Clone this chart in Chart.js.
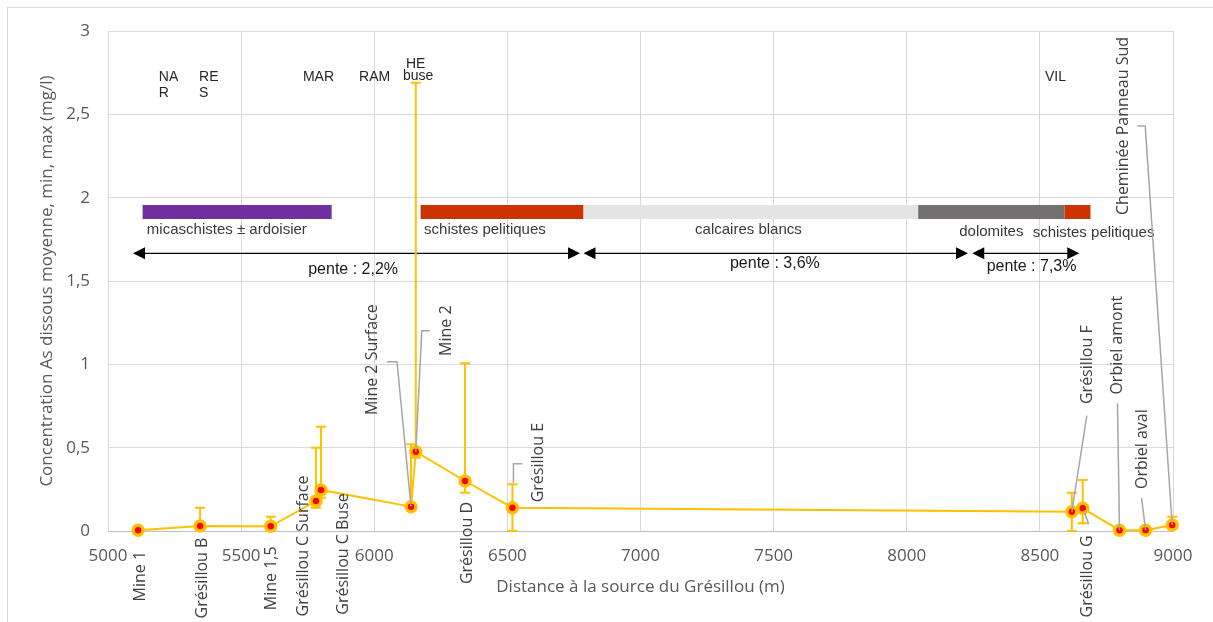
<!DOCTYPE html>
<html>
<head>
<meta charset="utf-8">
<script src="https://cdn.jsdelivr.net/npm/chart.js@4.4.1/dist/chart.umd.min.js"></script>
<style>
  body { margin: 0; background: #fff; }
</style>
</head>
<body>
<canvas id="asChart" width="1213" height="622"></canvas>
<script>
// stations le long du Grésillou
const stations = ["Mine 1", "Grésillou B", "Mine 1,5", "Grésillou C Surface", "Grésillou C Buse",
  "Mine 2 Surface", "Mine 2", "Grésillou D", "Grésillou E", "Grésillou F", "Grésillou G",
  "Orbiel amont", "Orbiel aval", "Cheminée Panneau Sud"];
const distances = [5113, 5346, 5611, 5781, 5800, 6138, 6156, 6341, 6519, 8620, 8661, 8799, 8897, 8997];
const asMean = [0.005, 0.03, 0.028, 0.18, 0.246, 0.146, 0.476, 0.30, 0.14, 0.116, 0.136, 0.005, 0.005, 0.036];
const asMin = [0.005, 0.01, 0.01, 0.14, 0.20, 0.14, 0.44, 0.23, 0, 0, 0.047, 0.005, 0.005, 0.03];
const asMax = [0.005, 0.14, 0.086, 0.50, 0.626, 0.52, 2.69, 1.006, 0.28, 0.23, 0.306, 0.005, 0.005, 0.086];

// géologie (distance début / fin)
const geoNames = ["micaschistes ± ardoisier", "schistes pelitiques", "calcaires blancs", "dolomites", "schistes pelitiques"];
const geoStart = [5130, 6174, 6786, 8043, 8593];
const geoEnd = [5840, 6786, 8043, 8593, 8690];

// pentes
const slopeLabels = ["pente : 2,2%", "pente : 3,6%", "pente : 7,3%"];
const slopeStart = [5094, 6786, 8246];
const slopeEnd = [6773, 8230, 8648];

// codes en haut du graphique
const topCodes = ["NA", "R", "RE", "S", "MAR", "RAM", "HE", "buse", "VIL"];

// ---- mise en page (pas des données) ----
const geoColors = ["#7030A0", "#CC3300", "#E4E4E4", "#767171", "#CC3300"];
const geoBand = [1.872, 1.956];
const geoLabelPos = [[5146, 1.806], [6187, 1.806], [7205, 1.806], [8197, 1.796], [8473, 1.788]];
const slopeY = 1.666;
const slopeLabelPos = [[5752, 1.566], [7336, 1.602], [8300, 1.584]];
const topCodePos = [[5191, 2.724], [5191, 2.628], [5342, 2.724], [5342, 2.628], [5732, 2.724],
  [5943, 2.724], [6119, 2.802], [6108, 2.73], [8519, 2.724]];
const labelLayout = [
  { dx: 2, dy: 46 },
  { dx: 2, dy: 52 },
  { dx: 1, dy: 52 },
  { dx: -13, dy: 45 },
  { dx: 22, dy: 64 },
  { dx: -39, dy: -147, leader: [[-24, -145], [-14, -145], [0, 0]] },
  { dx: 31, dy: -121, leader: [[14, -121], [6, -121], [0, 0]] },
  { dx: 2, dy: 62 },
  { dx: 26, dy: -45, leader: [[10, -44], [1, -44], [1, -25]] },
  { dx: 16, dy: -147, leader: [[15, -96], [0, 0]] },
  { dx: 5, dy: 68, leader: [[1, 2], [6, 16]] },
  { dx: -2, dy: -185, leader: [[-2, -127], [0, 0]] },
  { dx: -3, dy: -81, leader: [[-4, -32], [0, 0]] },
  { dx: -49, dy: -399, leader: [[-35, -399], [-27, -399], [0, 0]] }
];

const points = distances.map(function (d, i) {
  return { x: d, y: asMean[i] };
});

function arrowHead(ctx, x, y, dir) {
  ctx.beginPath();
  ctx.moveTo(x, y);
  ctx.lineTo(x - dir * 12, y - 6);
  ctx.lineTo(x - dir * 12, y + 6);
  ctx.closePath();
  ctx.fill();
}

const decorPlugin = {
  id: "decor",
  beforeDraw(chart) {
    const ctx = chart.ctx;
    ctx.save();
    ctx.strokeStyle = "#d9d9d9";
    ctx.lineWidth = 1;
    ctx.strokeRect(7.5, 7.5, 1230, 640);
    ctx.restore();
  },
  beforeDatasetsDraw(chart) {
    const ctx = chart.ctx;
    const xs = chart.scales.x;
    const ys = chart.scales.y;
    ctx.save();

    // bandes géologiques
    const yTop = ys.getPixelForValue(geoBand[1]);
    const yBot = ys.getPixelForValue(geoBand[0]);
    for (let i = 0; i < geoStart.length; i++) {
      const x0 = xs.getPixelForValue(geoStart[i]);
      const x1 = xs.getPixelForValue(geoEnd[i]);
      ctx.fillStyle = geoColors[i];
      ctx.fillRect(x0, yTop, x1 - x0, yBot - yTop);
    }

    // flèches de pente
    ctx.strokeStyle = "#000";
    ctx.fillStyle = "#000";
    ctx.lineWidth = 1.2;
    const ya = ys.getPixelForValue(slopeY);
    for (let i = 0; i < slopeStart.length; i++) {
      const x0 = xs.getPixelForValue(slopeStart[i]);
      const x1 = xs.getPixelForValue(slopeEnd[i]);
      ctx.beginPath();
      ctx.moveTo(x0 + 6, ya);
      ctx.lineTo(x1 - 6, ya);
      ctx.stroke();
      arrowHead(ctx, x0, ya, -1);
      arrowHead(ctx, x1, ya, 1);
    }

    // barres min / max
    ctx.strokeStyle = "#FFC000";
    ctx.lineWidth = 2;
    for (let i = 0; i < distances.length; i++) {
      if (asMax[i] === asMin[i]) continue;
      const x = xs.getPixelForValue(distances[i]);
      const y0 = ys.getPixelForValue(asMin[i]);
      const y1 = ys.getPixelForValue(asMax[i]);
      ctx.beginPath();
      ctx.moveTo(x, y0);
      ctx.lineTo(x, y1);
      ctx.moveTo(x - 5, y0);
      ctx.lineTo(x + 5, y0);
      ctx.moveTo(x - 5, y1);
      ctx.lineTo(x + 5, y1);
      ctx.stroke();
    }
    ctx.restore();
  },
  afterDatasetsDraw(chart) {
    const ctx = chart.ctx;
    const xs = chart.scales.x;
    const ys = chart.scales.y;
    ctx.save();

    // textes géologie et pentes
    ctx.font = "15px 'Liberation Sans', Arial, sans-serif";
    ctx.fillStyle = "#3a3a3a";
    ctx.textAlign = "left";
    ctx.textBaseline = "middle";
    for (let i = 0; i < geoNames.length; i++) {
      ctx.fillText(geoNames[i], xs.getPixelForValue(geoLabelPos[i][0]), ys.getPixelForValue(geoLabelPos[i][1]));
    }
    ctx.font = "16px 'Liberation Sans', Arial, sans-serif";
    ctx.fillStyle = "#1a1a1a";
    for (let i = 0; i < slopeLabels.length; i++) {
      ctx.fillText(slopeLabels[i], xs.getPixelForValue(slopeLabelPos[i][0]), ys.getPixelForValue(slopeLabelPos[i][1]));
    }

    // codes du haut
    ctx.font = "14px 'Liberation Sans', Arial, sans-serif";
    ctx.fillStyle = "#262626";
    for (let i = 0; i < topCodes.length; i++) {
      ctx.fillText(topCodes[i], xs.getPixelForValue(topCodePos[i][0]), ys.getPixelForValue(topCodePos[i][1]));
    }

    // étiquettes des stations
    ctx.font = "16px 'Open Sans', sans-serif";
    ctx.textAlign = "center";
    for (let i = 0; i < stations.length; i++) {
      const px = xs.getPixelForValue(distances[i]);
      const py = ys.getPixelForValue(asMean[i]);
      const lay = labelLayout[i];
      if (lay.leader) {
        ctx.strokeStyle = "#A6A6A6";
        ctx.lineWidth = 1.5;
        ctx.beginPath();
        lay.leader.forEach(function (p, k) {
          if (k === 0) ctx.moveTo(px + p[0], py + p[1]);
          else ctx.lineTo(px + p[0], py + p[1]);
        });
        ctx.stroke();
      }
      ctx.save();
      ctx.translate(px + lay.dx, py + lay.dy);
      ctx.rotate(-Math.PI / 2);
      ctx.fillStyle = "#404040";
      ctx.fillText(stations[i], 0, 0);
      ctx.restore();
    }
    ctx.restore();
  }
};

new Chart(document.getElementById("asChart"), {
  type: "scatter",
  data: {
    datasets: [
      {
        data: points,
        showLine: true,
        clip: false,
        borderColor: "#FFC000",
        borderWidth: 2,
        tension: 0,
        pointRadius: 5,
        pointBorderWidth: 3.5,
        pointBackgroundColor: "#FF0000",
        pointBorderColor: "#FFC000"
      }
    ]
  },
  options: {
    responsive: false,
    animation: false,
    layout: { padding: { top: 31, right: 40, left: 0, bottom: 0 } },
    plugins: {
      legend: { display: false },
      tooltip: { enabled: false }
    },
    scales: {
      x: {
        type: "linear",
        min: 5000,
        max: 9000,
        afterFit: function (scale) { scale.height = 91; },
        ticks: {
          stepSize: 500,
          padding: 15,
          color: "#595959",
          font: { family: "'Open Sans', sans-serif", size: 17 },
          callback: function (v) { return String(v); }
        },
        grid: { color: "#d9d9d9", drawTicks: false },
        border: { color: "#bfbfbf" },
        title: {
          display: true,
          text: "Distance à la source du Grésillou (m)",
          color: "#595959",
          font: { family: "'Open Sans', sans-serif", size: 17 },
          padding: { top: 0, bottom: 25 }
        }
      },
      y: {
        min: 0,
        max: 3,
        afterFit: function (scale) { scale.width = 108; },
        ticks: {
          stepSize: 0.5,
          padding: 18,
          color: "#595959",
          font: { family: "'Open Sans', sans-serif", size: 17 },
          callback: function (v) { return String(v).replace(".", ","); }
        },
        grid: { color: "#d9d9d9", drawTicks: false },
        border: { color: "#d9d9d9" },
        title: {
          display: true,
          text: "Concentration As dissous moyenne, min, max (mg/l)",
          color: "#595959",
          font: { family: "'Open Sans', sans-serif", size: 17 },
          padding: { top: 37, bottom: 0 }
        }
      }
    }
  },
  plugins: [decorPlugin]
});
</script>
</body>
</html>
